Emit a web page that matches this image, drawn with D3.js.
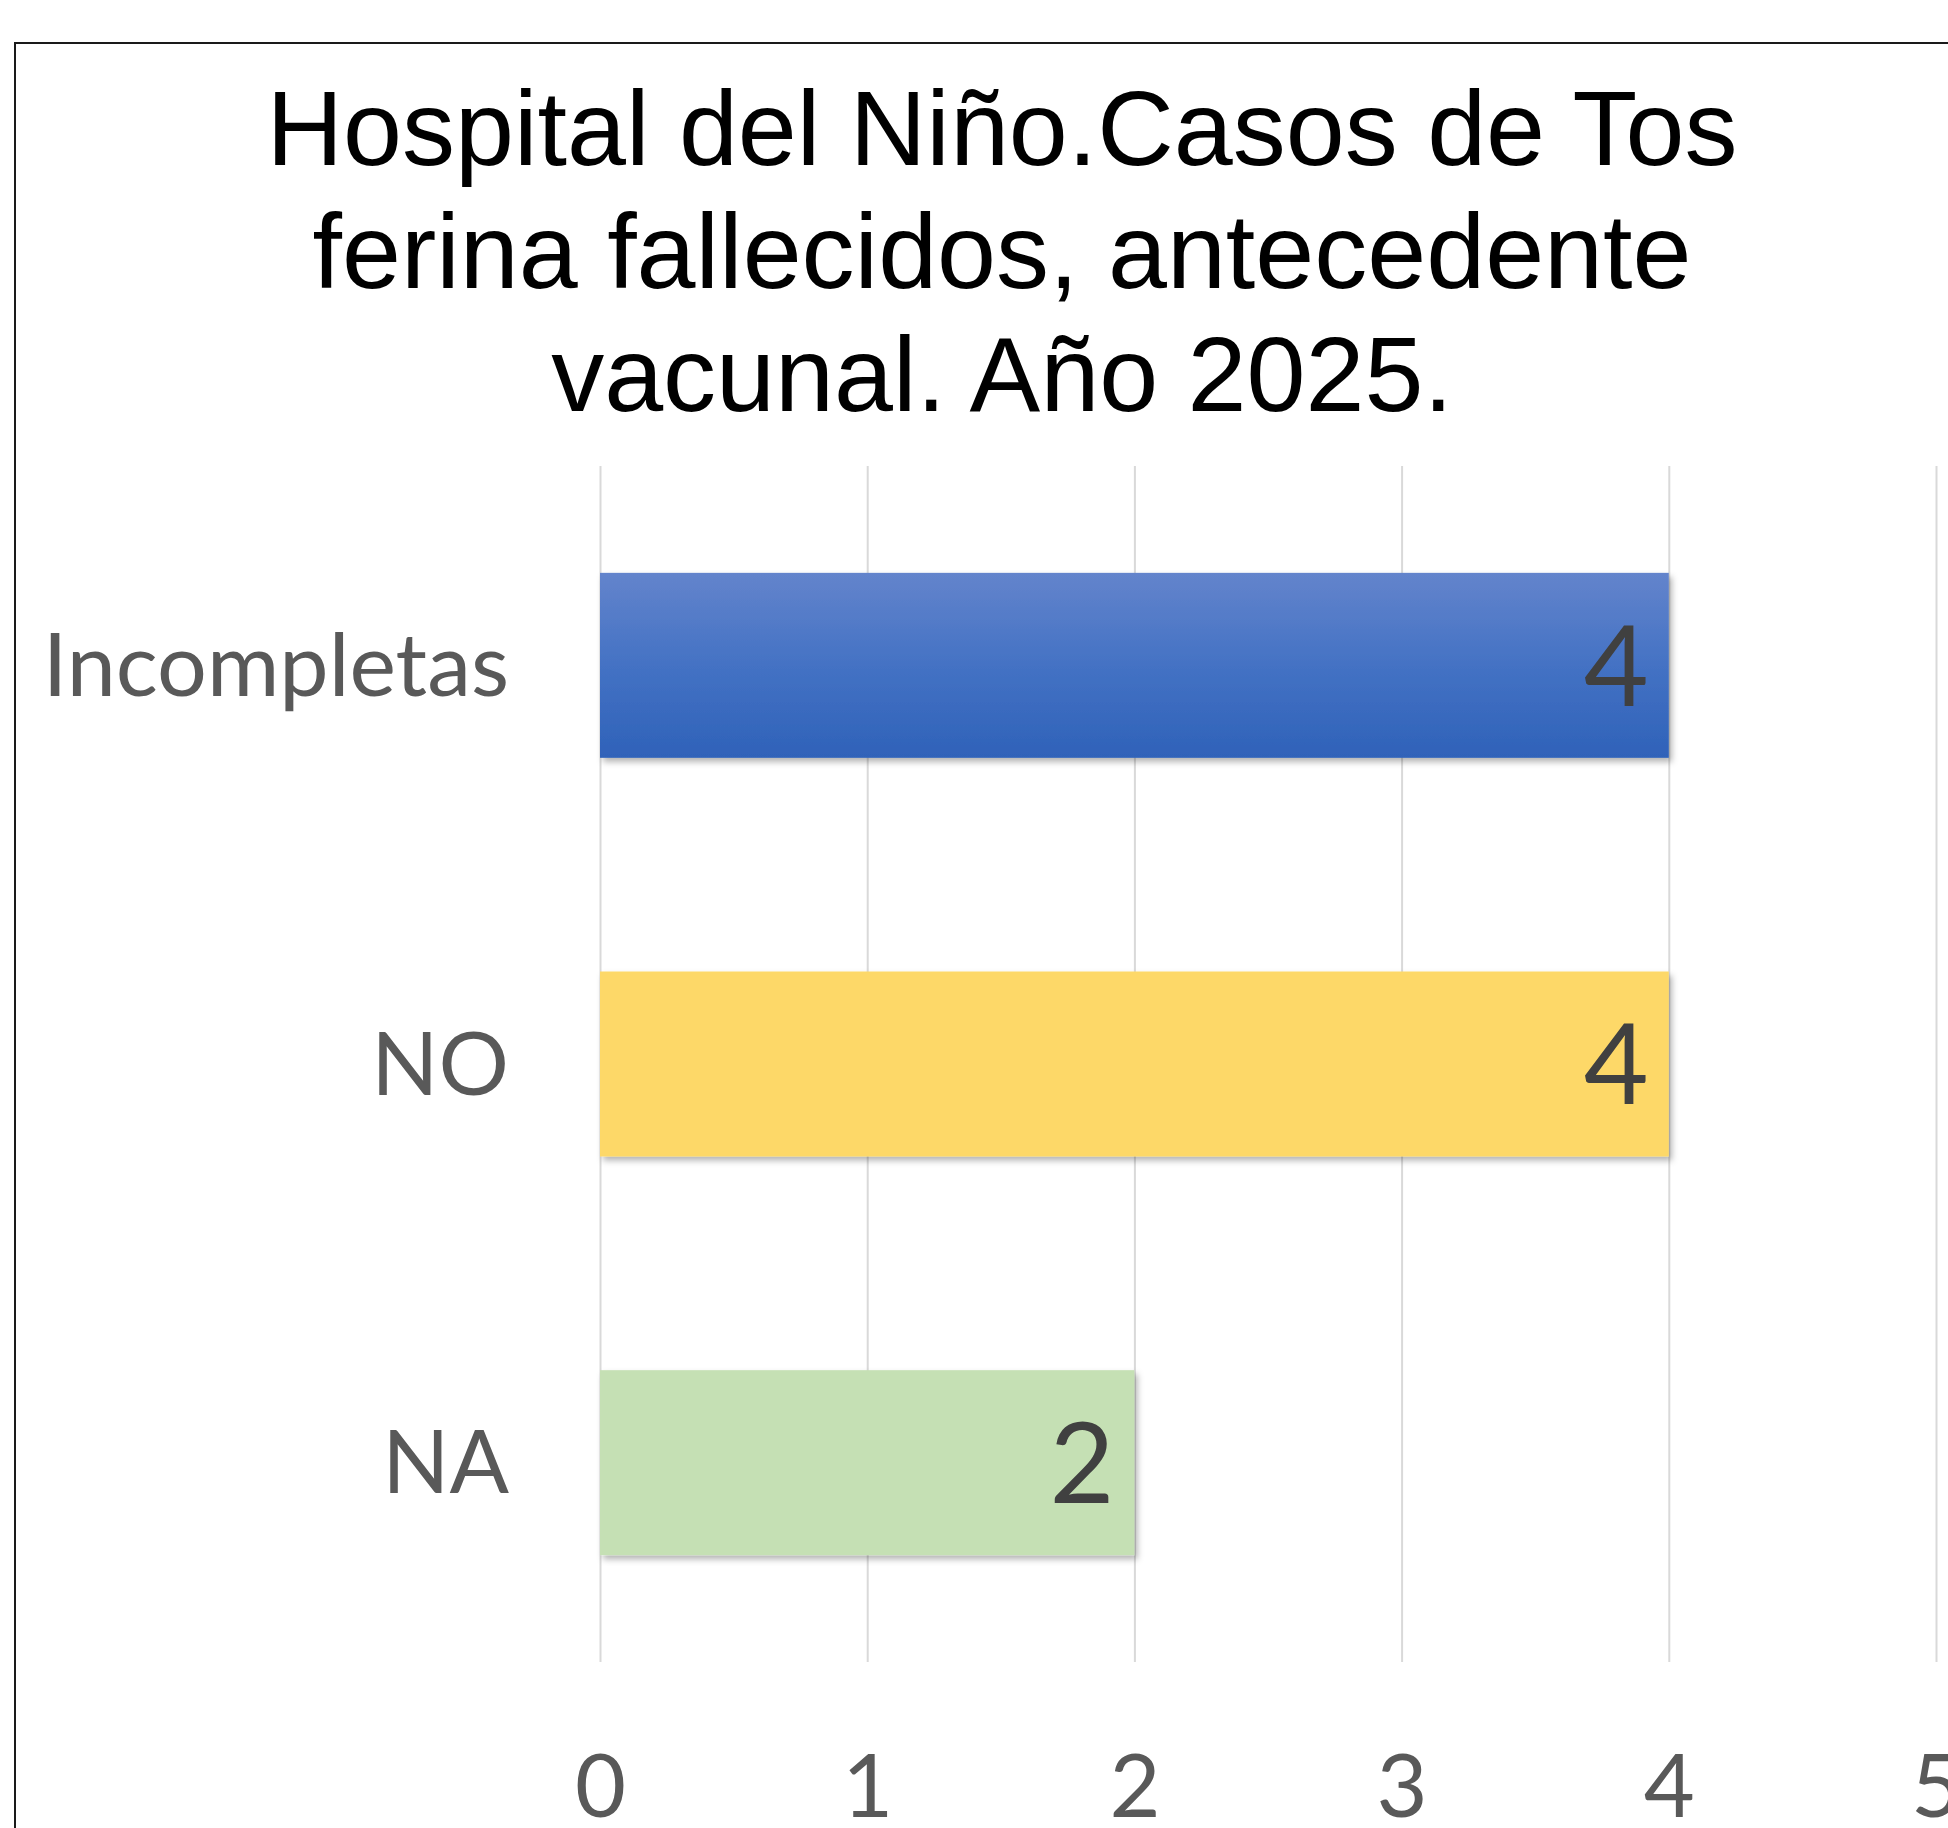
<!DOCTYPE html>
<html>
<head>
<meta charset="utf-8">
<script src="https://cdn.jsdelivr.net/npm/d3@7"></script>
<style>
  body { margin: 0; background: #fff; }
  svg { display: block; }
</style>
</head>
<body>
<div id="chart"></div>
<script>
"use strict"
// Chart data
var categories = ["Incompletas", "NO", "NA"]
var values = [4, 4, 2]
var barColors = ["url(#blueGrad)", "#FDD868", "#C5E0B4"]
var xTicks = [0, 1, 2, 3, 4, 5]
var titleLines = ["Hospital del Niño.Casos de Tos", "ferina fallecidos, antecedente", "vacunal. Año 2025."]

var width = 1948
var height = 1828
var plot = { left: 600, right: 1936, top: 466, bottom: 1662 }
var labelFont = "Lato, 'Open Sans', sans-serif"

var svg = d3.select("#chart").append("svg")
    .attr("width", width)
    .attr("height", height)

var defs = svg.append("defs")
var grad = defs.append("linearGradient").attr("id", "blueGrad")
    .attr("x1", 0).attr("y1", 0).attr("x2", 0).attr("y2", 1)
grad.append("stop").attr("offset", "0%").attr("stop-color", "#6384CC")
grad.append("stop").attr("offset", "50%").attr("stop-color", "#4472C4")
grad.append("stop").attr("offset", "100%").attr("stop-color", "#2F62B9")

var shadow = defs.append("filter").attr("id", "shadow")
    .attr("x", "-5%").attr("y", "-5%").attr("width", "115%").attr("height", "125%")
shadow.append("feDropShadow")
    .attr("dx", 3).attr("dy", 4).attr("stdDeviation", 3)
    .attr("flood-color", "#000").attr("flood-opacity", 0.3)

// chart frame (runs off the right and bottom edge like the original)
svg.append("rect")
    .attr("x", 15).attr("y", 43)
    .attr("width", 2000).attr("height", 2000)
    .attr("fill", "#fff")
    .attr("stroke", "#1a1a1a")
    .attr("stroke-width", 2)

// Title
svg.append("g").selectAll("text")
    .data(titleLines)
    .enter().append("text")
    .attr("x", 1002)
    .attr("y", function (d, i) { return 165 + i * 123 })
    .attr("text-anchor", "middle")
    .style("font-family", "'Liberation Sans', Arial, sans-serif")
    .style("font-size", "106px")
    .attr("fill", "#000")
    .text(function (d) { return d })

// Scales
var xScale = d3.scaleLinear().domain([0, 5]).range([plot.left, plot.right])
var yScale = d3.scaleBand().domain(categories).range([plot.top, plot.bottom])
    .paddingInner(0.536).paddingOuter(0.268)

// Gridlines
var grid = svg.append("g")
    .attr("transform", "translate(0," + plot.bottom + ")")
    .call(d3.axisBottom(xScale).tickValues(xTicks).tickSize(-(plot.bottom - plot.top)).tickFormat(""))
grid.select(".domain").remove()
grid.selectAll("line").attr("stroke", "#D9D9D9").attr("stroke-width", 2)

// X axis labels
var xAxis = svg.append("g")
    .attr("transform", "translate(0," + plot.bottom + ")")
    .call(d3.axisBottom(xScale).tickValues(xTicks).tickSize(0).tickFormat(d3.format("d")))
xAxis.select(".domain").remove()
xAxis.selectAll("text")
    .attr("y", 155).attr("dy", 0)
    .style("font-family", labelFont)
    .style("font-size", "88px")
    .attr("fill", "#595959")

// Y axis labels
var yAxis = svg.append("g")
    .attr("transform", "translate(509,0)")
    .call(d3.axisLeft(yScale).tickSize(0).tickPadding(0))
yAxis.select(".domain").remove()
yAxis.selectAll("text")
    .attr("dy", "0.35em")
    .style("font-family", labelFont)
    .style("font-size", "88px")
    .attr("fill", "#595959")

// Bars
var data = categories.map(function (c, i) { return { cat: c, value: values[i], color: barColors[i] } })

svg.append("g").selectAll("rect")
    .data(data)
    .enter().append("rect")
    .attr("x", xScale(0))
    .attr("y", function (d) { return yScale(d.cat) })
    .attr("width", function (d) { return xScale(d.value) - xScale(0) })
    .attr("height", yScale.bandwidth())
    .attr("fill", function (d) { return d.color })
    .attr("filter", "url(#shadow)")

// Data labels
svg.append("g").selectAll("text")
    .data(data)
    .enter().append("text")
    .attr("x", function (d) { return xScale(d.value) - 20 })
    .attr("y", function (d) { return yScale(d.cat) + yScale.bandwidth() / 2 })
    .attr("dy", "0.36em")
    .attr("text-anchor", "end")
    .style("font-family", labelFont)
    .style("font-size", "112px")
    .attr("fill", "#404040")
    .text(function (d) { return d.value })
</script>
</body>
</html>
